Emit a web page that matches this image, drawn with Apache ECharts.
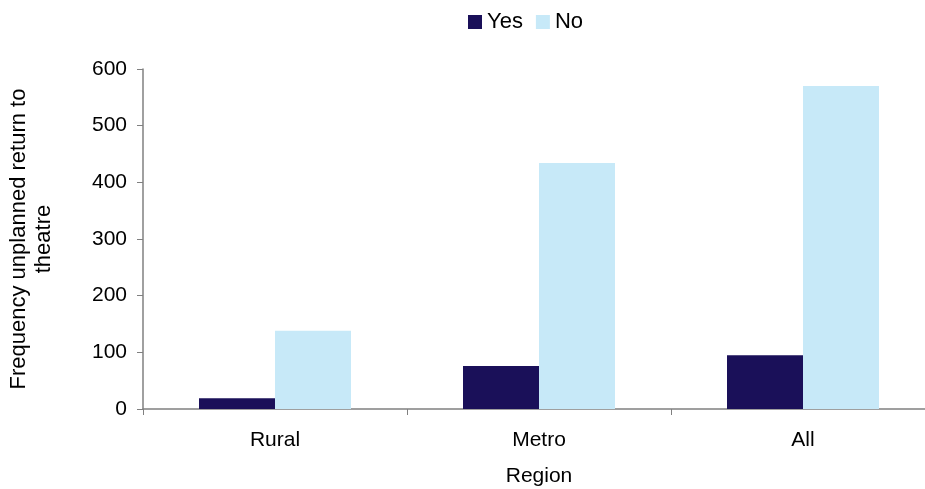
<!DOCTYPE html>
<html>
<head>
<meta charset="utf-8">
<script src="https://cdn.jsdelivr.net/npm/echarts@6/dist/echarts.min.js"></script>
<style>html,body{margin:0;padding:0;background:#fff;}#c{width:925px;height:489px;}</style>
</head>
<body>
<div id="c"></div>
<script>
var categories = ["Rural", "Metro", "All"];
var yesValues = [19, 76, 95];
var noValues = [138, 434, 570];
var yTicks = [0, 100, 200, 300, 400, 500, 600];

var chart = echarts.init(document.getElementById('c'));
var font = 'Liberation Sans, Arial, sans-serif';
var fs = 21;
chart.setOption({
  animation: false,
  textStyle: { fontFamily: font },
  legend: {
    top: 6, left: 463,
    itemWidth: 14, itemHeight: 14, itemGap: 13, itemTextGap: 2,
    icon: 'rect',
    textStyle: { fontSize: 22, color: '#000', fontFamily: font },
    data: ['Yes', 'No']
  },
  grid: { left: 143, top: 69, width: 792, bottom: 80, containLabel: false, outerBoundsMode: 'none' },
  xAxis: {
    type: 'category',
    data: categories,
    name: 'Region',
    nameLocation: 'middle',
    nameGap: 57,
    nameTextStyle: { fontSize: fs, color: '#000', fontFamily: font },
    axisLine: { lineStyle: { color: '#808080', width: 1.5 } },
    axisTick: { show: true, length: 6, lineStyle: { color: '#808080' } },
    axisLabel: { fontSize: fs, color: '#000', margin: 21, fontFamily: font }
  },
  yAxis: {
    type: 'value',
    min: 0, max: 600, interval: 100,
    name: 'Frequency unplanned return to\ntheatre',
    nameLocation: 'middle',
    nameGap: 87,
    nameRotate: 90,
    nameTextStyle: { fontSize: 22, color: '#000', lineHeight: 25, fontFamily: font },
    axisLine: { show: true, lineStyle: { color: '#808080', width: 1.5 } },
    axisTick: { show: true, length: 6, lineStyle: { color: '#808080' } },
    splitLine: { show: false },
    axisLabel: { fontSize: fs, color: '#000', margin: 16, fontFamily: font,
      formatter: function (v) { return yTicks.indexOf(v) >= 0 ? String(v) : ''; } }
  },
  series: [
    { name: 'Yes', type: 'bar', data: yesValues, barWidth: 76, barGap: '0%',
      itemStyle: { color: '#1A1059' } },
    { name: 'No', type: 'bar', data: noValues, barWidth: 76, barGap: '0%',
      itemStyle: { color: '#C7E9F8' } }
  ]
});
</script>
</body>
</html>
